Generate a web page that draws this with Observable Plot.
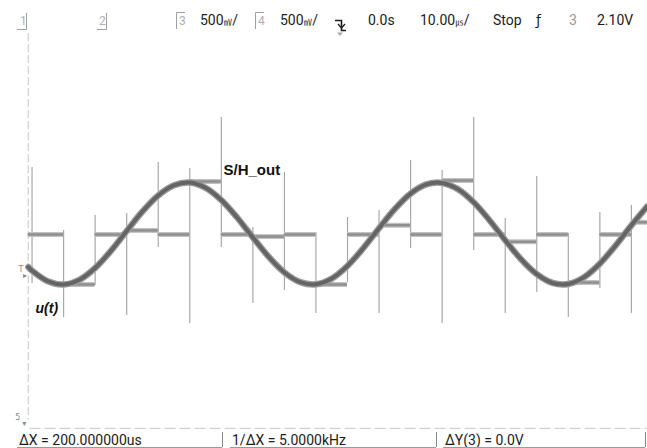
<!DOCTYPE html>
<html><head><meta charset="utf-8">
<script src="https://cdn.jsdelivr.net/npm/d3@7"></script>
<script src="https://cdn.jsdelivr.net/npm/@observablehq/plot@0.6"></script>
<style>
html,body{margin:0;padding:0;background:#fff;}
#wrap{position:relative;width:647px;height:448px;overflow:hidden;font-family:Roboto,sans-serif;}
#chart,#head,#foot{position:absolute;left:0;}
#chart{top:29px;}
#head{top:0;}
#foot{top:430px;}
</style></head><body>
<div id="wrap"><div id="chart"></div><svg id="head" width="647" height="40"></svg><svg id="foot" width="647" height="18"></svg></div>
<script>
// time in microseconds, voltage in volts (500 mV/div)
const sineT = [-12, 0, 50, 100, 150, 200, 250, 300, 350, 400, 450, 500, 550, 600, 650, 700, 750, 800, 850, 900, 950, 1000, 1050, 1100, 1150, 1200, 1250, 1300, 1350, 1400, 1450, 1500, 1550, 1600, 1650, 1700, 1750, 1800, 1850, 1900, 1951];
const sineV = [-0.329, -0.364, -0.468, -0.500, -0.454, -0.338, -0.170, 0.025, 0.216, 0.373, 0.473, 0.499, 0.448, 0.328, 0.157, -0.039, -0.228, -0.382, -0.477, -0.498, -0.442, -0.317, -0.144, 0.052, 0.240, 0.391, 0.481, 0.496, 0.435, 0.306, 0.130, -0.066, -0.252, -0.399, -0.485, -0.495, -0.428, -0.295, -0.117, 0.080, 0.268];

const shStart = [-12, 100, 200, 300, 400, 500, 600, 700, 800, 900, 1000, 1100, 1200, 1300, 1400, 1500, 1600, 1700, 1800, 1900];
const shEnd   = [100, 200, 300, 400, 500, 600, 700, 800, 900, 1000, 1100, 1200, 1300, 1400, 1500, 1600, 1700, 1800, 1900, 1951];
const shLevel = [-0.01, -0.50, -0.01, 0.03, -0.01, 0.51, -0.01, -0.03, -0.01, -0.50, -0.01, 0.08, -0.01, 0.52, -0.01, -0.08, -0.01, -0.48, -0.01, 0.11];

const spikeT   = [0, 100, 200, 300, 400, 500, 600, 700, 800, 900, 1000, 1100, 1200, 1300, 1400, 1500, 1600, 1700, 1800, 1900];
const spikeTop = [0.647, 0.029, 0.176, 0.196, 0.696, 0.637, 1.137, 0.059, 0.598, 0.010, 0.157, 0.225, 0.716, 0.618, 1.137, 0.147, 0.559, 0.000, 0.206, 0.275];
const spikeBot = [-0.490, -0.824, -0.510, -0.804, -0.137, -0.882, -0.137, -0.686, -0.559, -0.784, -0.480, -0.784, -0.147, -0.882, -0.167, -0.784, -0.578, -0.824, -0.539, -0.784];

const cursorV = [{t: -12, a: 1.96, b: -1.83}];
const cursorH = [{v: -1.91, a: -6, b: 1951}];

const labelSH = [{t: 607, v: 0.578, text: "S/H_out"}];
const labelU = [{t: 11, v: -0.784, text: "u(t)"}];
const markers = [{t: -35, v: -0.35, text: "T"}, {t: -22, v: -0.41, text: "▸"}, {t: -45, v: -1.80, text: "5"}, {t: -25, v: -1.86, text: "▾"}];

const shData = shStart.map((t0, i) => ({t0, t1: shEnd[i], v: shLevel[i]}));
const spikes = spikeT.map((t, i) => ({t, top: spikeTop[i], bot: spikeBot[i]}));
const sine = sineT.map((t, i) => ({t, v: sineV[i]}));

const chart = Plot.plot({
  width: 647, height: 408, margin: 0,
  x: {domain: [-100, 1951], axis: null},
  y: {domain: [-2, 2], axis: null},
  style: {background: "transparent", overflow: "visible"},
  marks: [
    Plot.ruleX(cursorV, {x: "t", y1: "a", y2: "b", stroke: "#c6c6c6", strokeDasharray: "8,3"}),
    Plot.ruleY(cursorH, {y: "v", x1: "a", x2: "b", stroke: "#c6c6c6", strokeDasharray: "11,4"}),
    Plot.ruleX(spikes, {x: "t", y1: "top", y2: "bot", stroke: "#a8a8a8", strokeWidth: 1.2}),
    Plot.ruleY(shData, {y: "v", x1: "t0", x2: "t1", stroke: "#c2c2c2", strokeWidth: 5}),
    Plot.ruleY(shData, {y: "v", x1: "t0", x2: "t1", stroke: "#8f8f8f", strokeWidth: 2.5}),
    Plot.line(sine, {x: "t", y: "v", curve: "catmull-rom", stroke: "#9c9c9c", strokeWidth: 6.5}),
    Plot.line(sine, {x: "t", y: "v", curve: "catmull-rom", stroke: "#646464", strokeWidth: 4}),
    Plot.text(labelSH, {x: "t", y: "v", text: "text", textAnchor: "start", lineAnchor: "bottom", fontFamily: "Liberation Sans, Arial, sans-serif", fontWeight: "bold", fontSize: 15, fill: "#111"}),
    Plot.text(labelU, {x: "t", y: "v", text: "text", textAnchor: "start", lineAnchor: "bottom", fontFamily: "Liberation Sans, Arial, sans-serif", fontWeight: "bold", fontStyle: "italic", fontSize: 14, fill: "#111"}),
    Plot.text(markers, {x: "t", y: "v", text: "text", fontSize: 8, fill: "#8a8a8a", fontFamily: "DejaVu Sans, sans-serif"})
  ]
});
document.getElementById("chart").appendChild(chart);

// header (oscilloscope status line)
const head = d3.select("#head");
const dark = "#1c1c1c", light = "#b0b0b0", line = "#a0a0a0";
function t(sel, x, y, s, size, fill, extra) {
  const e = sel.append("text").attr("x", x).attr("y", y).text(s)
    .attr("font-family", "Roboto, sans-serif").attr("font-size", size).attr("fill", fill);
  if (extra) extra(e);
  return e;
}
// value with a compact unit glyph, in one text element
function val(x, num, unitGlyph) {
  const e = head.append("text").attr("x", x).attr("y", 25)
    .attr("font-family", "Roboto, sans-serif").attr("font-size", 14).attr("fill", dark);
  e.append("tspan").text(num);
  e.append("tspan").attr("font-family", "Noto Sans CJK JP, sans-serif").attr("font-size", 8).attr("dx", 0.3).text(unitGlyph);
  e.append("tspan").attr("dx", 0.3).text("/");
}
head.append("path").attr("d", "M17,29.5H26.5V13").attr("fill", "none").attr("stroke", line);
t(head, 20, 25, "1", 12, light);
head.append("path").attr("d", "M97,29.5H106.5V13").attr("fill", "none").attr("stroke", line);
t(head, 99, 25, "2", 12, light);
head.append("path").attr("d", "M176.5,29V12.5H185").attr("fill", "none").attr("stroke", line);
t(head, 179, 25, "3", 12, light);
head.append("path").attr("d", "M255.5,29V12.5H264").attr("fill", "none").attr("stroke", line);
t(head, 258, 25, "4", 12, light);
val(200, "500", "㎷");
val(280, "500", "㎷");
head.append("path").attr("d", "M335,20.5H341.5V30.5H346").attr("fill", "none").attr("stroke", dark).attr("stroke-width", 1.6);
head.append("path").attr("d", "M338,24L341.5,28L345,24").attr("fill", "none").attr("stroke", dark).attr("stroke-width", 1.3);
head.append("path").attr("d", "M337,32.5H343L340,36Z").attr("fill", "#aaa");
t(head, 368, 25, "0.0s", 14, dark);
val(420, "10.00", "㎲");
t(head, 493, 25, "Stop", 14, dark);
t(head, 536, 25, "ƒ", 14, dark, e => e.attr("font-family", "DejaVu Sans, sans-serif"));
t(head, 569, 25, "3", 14, "#999");
t(head, 597, 25, "2.10V", 14, dark);

// footer (cursor readout)
const foot = d3.select("#foot");
t(foot, 19, 15, "ΔX = 200.000000us", 14, dark);
t(foot, 232, 15, "1/ΔX = 5.0000kHz", 14, dark);
t(foot, 445, 15, "ΔY(3) = 0.0V", 14, dark);
[[222.5], [436.5], [645.5]].forEach(([x]) => foot.append("line").attr("x1", x).attr("x2", x).attr("y1", 2).attr("y2", 17).attr("stroke", "#888"));
[[17, 222], [230, 436], [443, 645]].forEach(([a, b]) => foot.append("line").attr("x1", a).attr("x2", b).attr("y1", 17.5).attr("y2", 17.5).attr("stroke", "#999"));
</script>
</body></html>
